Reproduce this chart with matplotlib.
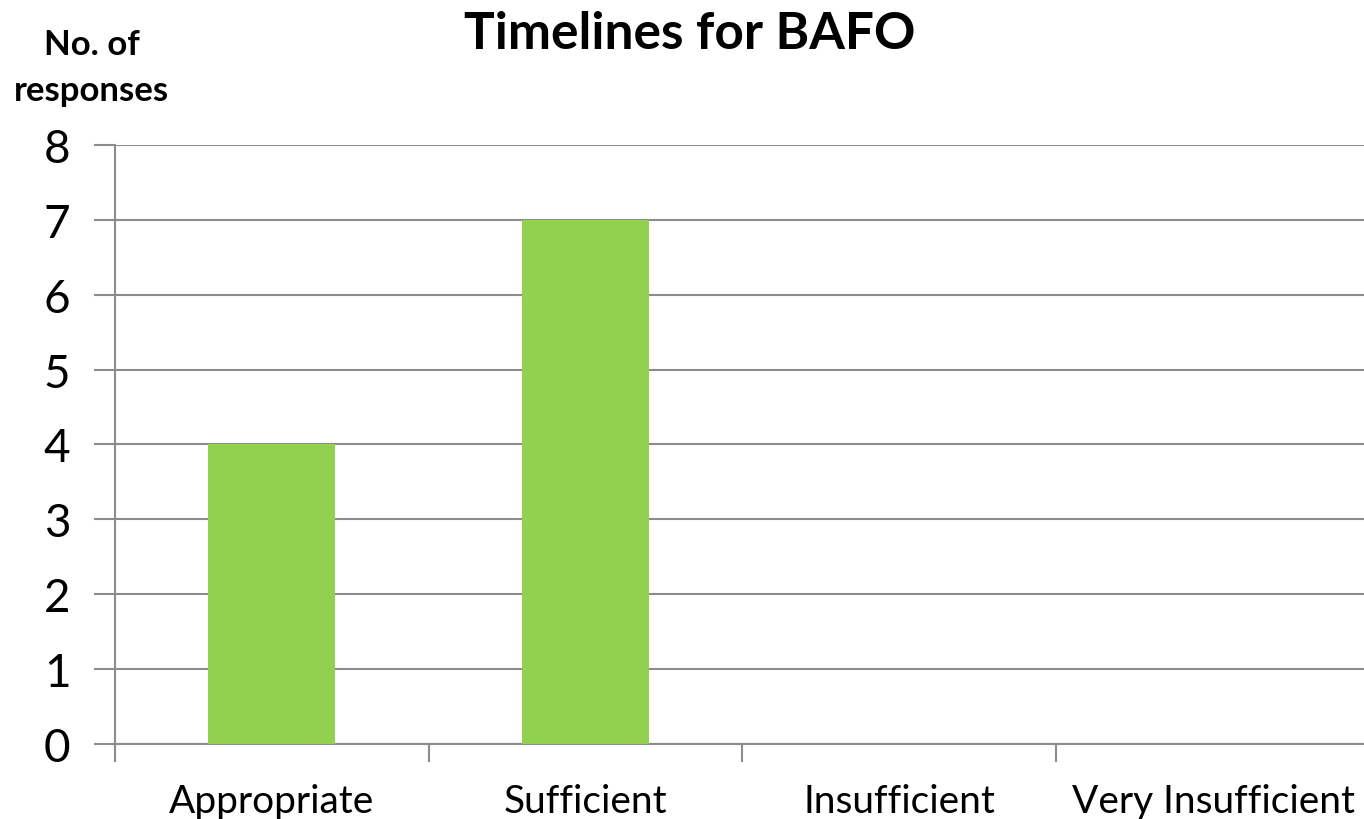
import matplotlib
matplotlib.use("Agg")
from matplotlib import pyplot as plt

categories = ["Appropriate", "Sufficient", "Insufficient", "Very Insufficient"]
responses = [4, 7, 0, 0]

plt.rcParams["font.family"] = ["Lato", "DejaVu Sans"]
grey = "#8c8c8c"
green = "#92d050"

fig = plt.figure(figsize=(13.64, 8.2), dpi=100, facecolor="w")
ax = fig.add_axes([0.0843, 0.0915, 0.920, 0.7305])

x = range(len(categories))
ax.bar(x, responses, width=0.405, color=green, zorder=3)

ax.set_xlim(-0.5, len(categories) - 0.5)
ax.set_ylim(0, 8)
ax.set_yticks(range(9))
ax.set_xticks([i - 0.5 for i in range(len(categories))])
ax.set_xticks(list(x), minor=True)
ax.set_xticklabels([])
ax.set_xticklabels(categories, minor=True, fontsize=28)
ax.tick_params(axis="x", which="major", length=13, width=1.5, color=grey)
ax.tick_params(axis="x", which="minor", length=0, pad=28)
ax.tick_params(axis="y", length=15, width=1.5, color=grey, labelsize=33, pad=17)

ax.yaxis.grid(True, color=grey, linewidth=1.5, zorder=0)
for side in ["top", "right"]:
    ax.spines[side].set_visible(False)
ax.spines["left"].set_color(grey)
ax.spines["left"].set_linewidth(1.5)
ax.spines["bottom"].set_color(grey)
ax.spines["bottom"].set_linewidth(1.5)

fig.text(0.506, 0.958, "Timelines for BAFO", ha="center", va="center",
         fontsize=37, fontweight="bold")
fig.text(0.067, 0.917, "No. of\nresponses", ha="center", va="center",
         fontsize=25, fontweight="bold", linespacing=1.55)

fig.savefig("out.png", dpi=100, facecolor="w")
